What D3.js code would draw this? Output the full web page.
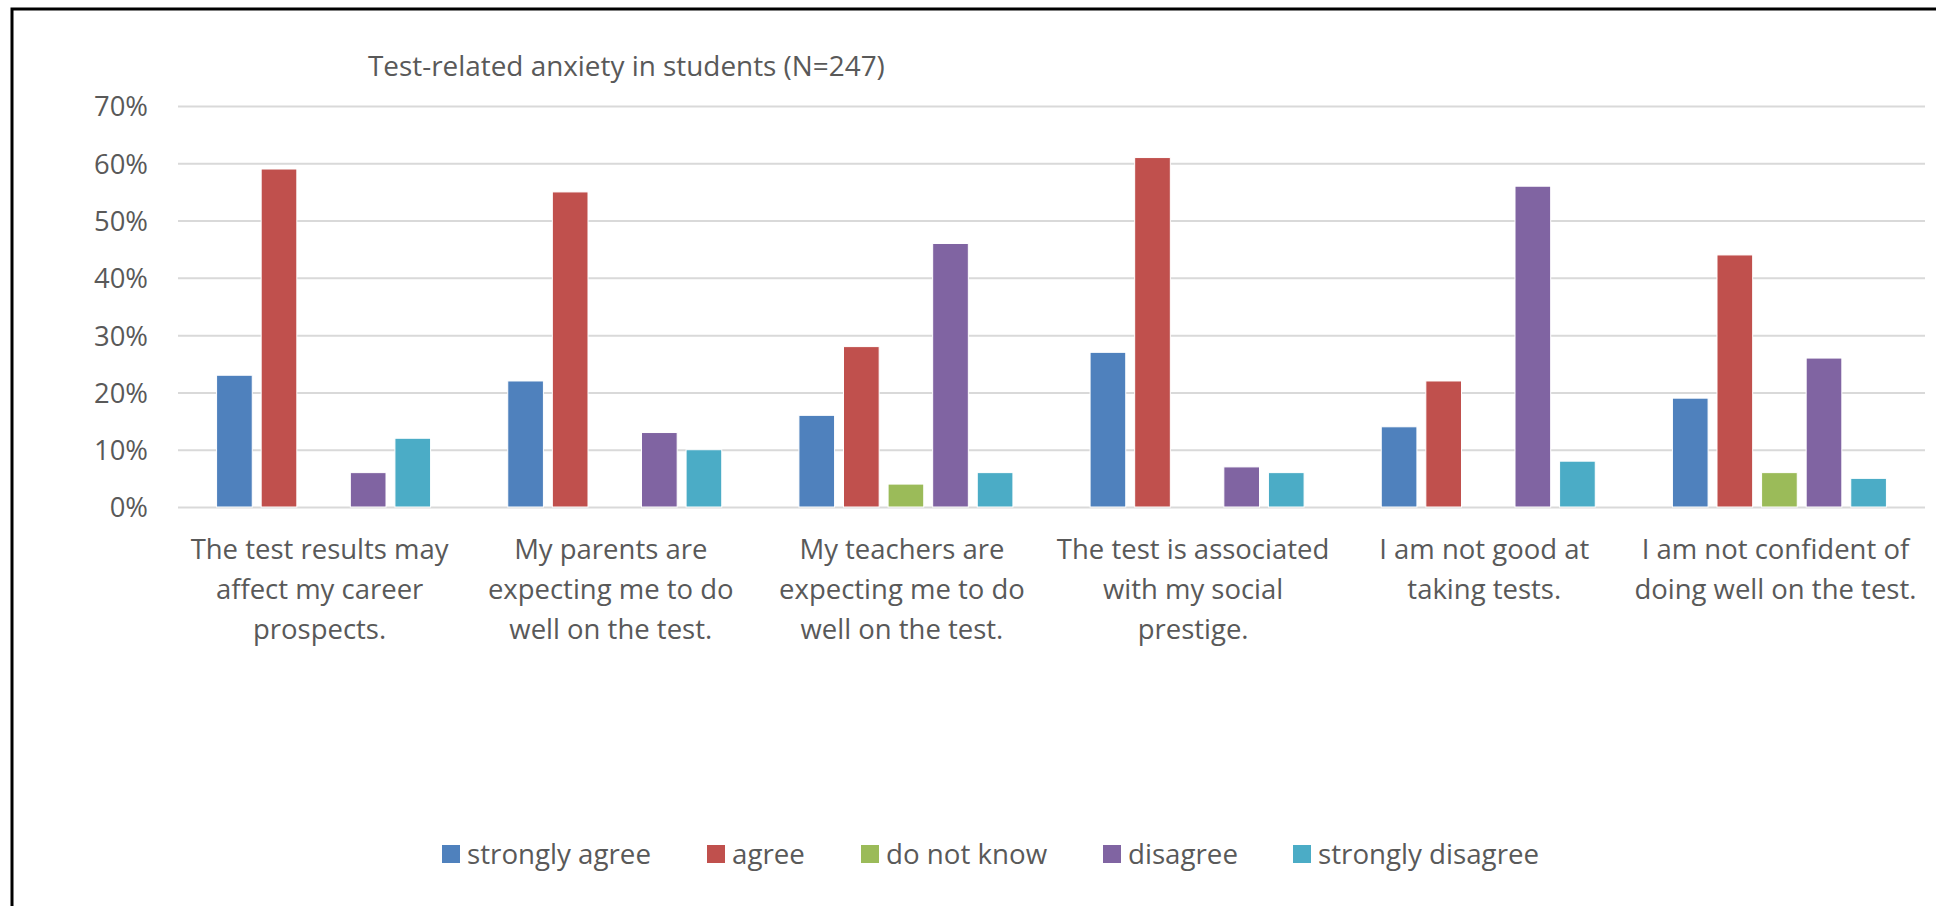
<!DOCTYPE html>
<html>
<head>
<meta charset="utf-8">
<script src="https://cdn.jsdelivr.net/npm/d3@7"></script>
<style>
  html, body { margin: 0; padding: 0; background: #fff; }
  svg { display: block; }
  text { font-family: "Open Sans", "Noto Sans", sans-serif; fill: #595959; }
</style>
</head>
<body>
<svg id="chart" width="1936" height="906"></svg>
<script>
// ---- data ----
const categories = [
  ["The test results may", "affect my career", "prospects."],
  ["My parents are", "expecting me to do", "well on the test."],
  ["My teachers are", "expecting me to do", "well on the test."],
  ["The test is associated", "with my social", "prestige."],
  ["I am not good at", "taking tests."],
  ["I am not confident of", "doing well on the test."]
];
const seriesNames = ["strongly agree", "agree", "do not know", "disagree", "strongly disagree"];
const stronglyAgree    = [23, 22, 16, 27, 14, 19];
const agree            = [59, 55, 28, 61, 22, 44];
const doNotKnow        = [0, 0, 4, 0, 0, 6];
const disagree         = [6, 13, 46, 7, 56, 26];
const stronglyDisagree = [12, 10, 6, 6, 8, 5];
const yTicks = [0, 10, 20, 30, 40, 50, 60, 70];
const title = "Test-related anxiety in students (N=247)";
const colors = ["#4F81BD", "#C0504D", "#9BBB59", "#8064A2", "#4BACC6"];

const seriesValues = [stronglyAgree, agree, doNotKnow, disagree, stronglyDisagree];
const catKeys = categories.map((c, i) => i);

// ---- layout ----
const svg = d3.select("#chart");
svg.append("rect").attr("width", 1936).attr("height", 906).attr("fill", "#fff");
svg.append("rect").attr("x", 12).attr("y", 9).attr("width", 2000).attr("height", 1000)
  .attr("fill", "none").attr("stroke", "#000").attr("stroke-width", 3);

// font size that makes a sample string match a width seen in the reference
function fitSize(sample, targetWidth) {
  const t = svg.append("text").attr("font-size", 100).text(sample);
  const w = t.node().getComputedTextLength();
  t.remove();
  return 100 * targetWidth / w;
}
const yFont = fitSize("70%", 54);
const catFont = fitSize("The test results may", 258);
const legFont = fitSize("strongly agree", 184);
const titleFont = fitSize(title, 517);

const plot = { left: 178, right: 1925, top: 106, bottom: 507 };

const x0 = d3.scaleBand().domain(catKeys).range([plot.left, plot.right])
  .paddingInner(0.265).paddingOuter(0.1325);
const x1 = d3.scaleBand().domain(seriesNames).range([0, x0.bandwidth()]).paddingInner(0.2).paddingOuter(0);
const y = d3.scaleLinear().domain([0, 70]).range([plot.bottom, plot.top]);

// gridlines
svg.append("g").attr("transform", `translate(${plot.left},0)`)
  .call(d3.axisLeft(y).tickValues(yTicks).tickSize(-(plot.right - plot.left)).tickFormat(""))
  .call(g => g.select(".domain").remove())
  .call(g => g.selectAll("line").attr("stroke", "#D9D9D9").attr("stroke-width", 2));

// y labels
svg.append("g").attr("transform", `translate(148,0)`)
  .call(d3.axisLeft(y).tickValues(yTicks).tickSize(0).tickPadding(0).tickFormat(d => d + "%"))
  .call(g => g.select(".domain").remove())
  .call(g => g.selectAll("text").style("font-family", "'Open Sans', 'Noto Sans', sans-serif")
    .attr("font-size", yFont).attr("fill", "#595959").attr("dy", "0.36em"));

// bars
const groups = svg.append("g").selectAll("g").data(catKeys).join("g")
  .attr("transform", d => `translate(${x0(d)},0)`);
groups.selectAll("rect")
  .data(ci => seriesNames.map((s, si) => ({ s, si, v: seriesValues[si][ci] })))
  .join("rect")
  .attr("x", d => x1(d.s))
  .attr("width", x1.bandwidth())
  .attr("y", d => y(d.v))
  .attr("height", d => y(0) - y(d.v))
  .attr("fill", d => colors[d.si])
  .attr("stroke", "#fff").attr("stroke-width", 1)
  .attr("display", d => d.v > 0 ? null : "none");

// x axis labels
const xAxis = svg.append("g").attr("transform", `translate(0,${plot.bottom})`)
  .call(d3.axisBottom(x0).tickSize(0).tickFormat(""))
  .call(g => g.select(".domain").remove());
xAxis.selectAll(".tick").each(function(d) {
  const t = d3.select(this).append("text")
    .attr("text-anchor", "middle").attr("font-size", catFont).attr("fill", "#595959")
    .style("font-family", "'Open Sans', 'Noto Sans', sans-serif");
  categories[d].forEach((line, i) => {
    t.append("tspan").attr("x", -4).attr("y", 52 + i * 40).text(line);
  });
});

// title
svg.append("text").attr("x", 368).attr("y", 76).attr("font-size", titleFont).text(title);

// legend
const legendX = [442, 707, 861, 1103, 1293];
const legend = svg.append("g").selectAll("g").data(seriesNames).join("g")
  .attr("transform", (d, i) => `translate(${legendX[i]},854)`);
legend.append("rect").attr("x", 0).attr("y", -9).attr("width", 18).attr("height", 18)
  .attr("fill", (d, i) => colors[i]);
legend.append("text").attr("x", 25).attr("y", 10).attr("font-size", legFont).text(d => d);
</script>
</body>
</html>
